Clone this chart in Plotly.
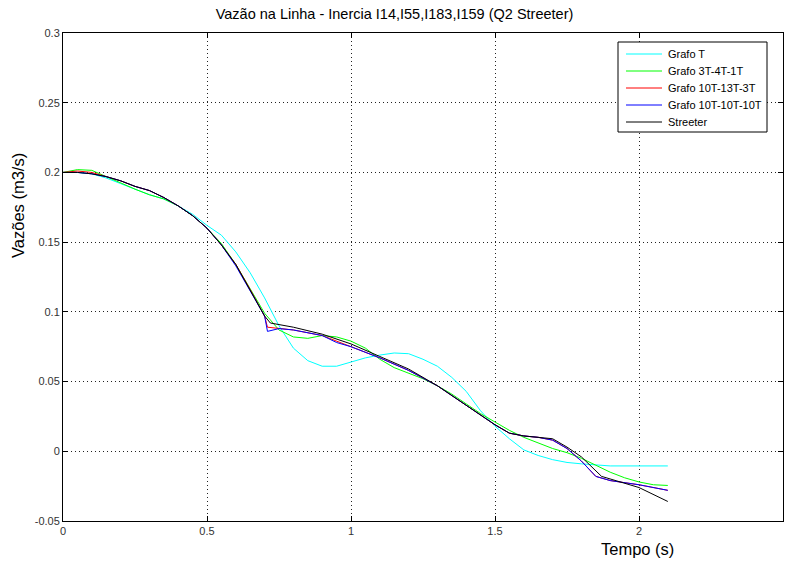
import plotly.graph_objects as go

# Time samples (s) and flow rates (m3/s) for each model
t_cyan = [0, 0.05, 0.1, 0.15, 0.2, 0.25, 0.3, 0.35, 0.4, 0.45, 0.5, 0.55, 0.6, 0.65, 0.7,
          0.75, 0.8, 0.85, 0.9, 0.95, 1.0, 1.05, 1.1, 1.15, 1.2, 1.25, 1.3, 1.35, 1.4,
          1.45, 1.5, 1.55, 1.6, 1.65, 1.7, 1.75, 1.8, 1.85, 1.9, 2.0, 2.1]
q_grafo_t = [0.200, 0.200, 0.199, 0.196, 0.192, 0.188, 0.184, 0.181, 0.176, 0.170, 0.162,
             0.155, 0.143, 0.128, 0.110, 0.090, 0.074, 0.065, 0.061, 0.061, 0.064, 0.067,
             0.069, 0.0705, 0.070, 0.066, 0.061, 0.053, 0.043, 0.029, 0.018, 0.009, 0.001,
             -0.003, -0.006, -0.008, -0.009, -0.010, -0.0105, -0.0105, -0.0105]

t_green = [0, 0.05, 0.1, 0.15, 0.2, 0.25, 0.3, 0.35, 0.4, 0.45, 0.5, 0.55, 0.6, 0.65, 0.7,
           0.75, 0.8, 0.85, 0.9, 0.95, 1.0, 1.05, 1.1, 1.15, 1.2, 1.25, 1.3, 1.35, 1.4,
           1.45, 1.5, 1.55, 1.6, 1.65, 1.7, 1.75, 1.8, 1.85, 1.9, 1.95, 2.0, 2.05, 2.1]
q_grafo_3t = [0.200, 0.202, 0.2015, 0.197, 0.192, 0.188, 0.184, 0.181, 0.176, 0.169, 0.160,
              0.149, 0.134, 0.117, 0.099, 0.087, 0.082, 0.081, 0.083, 0.082, 0.079, 0.074,
              0.066, 0.060, 0.056, 0.052, 0.047, 0.041, 0.034, 0.027, 0.021, 0.015, 0.010,
              0.006, 0.002, -0.001, -0.005, -0.010, -0.015, -0.019, -0.022, -0.024, -0.0245]

t_fine = [0, 0.05, 0.1, 0.15, 0.2, 0.25, 0.3, 0.35, 0.4, 0.45, 0.5, 0.55, 0.6, 0.65, 0.7,
          0.71, 0.75, 0.8, 0.9, 0.95, 1.0, 1.1, 1.2, 1.3, 1.4, 1.5, 1.55, 1.6, 1.65, 1.7,
          1.75, 1.8, 1.85, 1.9, 2.0, 2.1]
q_grafo_10t_13t = [0.200, 0.201, 0.200, 0.197, 0.194, 0.190, 0.187, 0.182, 0.176, 0.169,
                   0.160, 0.148, 0.134, 0.116, 0.097, 0.089, 0.088, 0.087, 0.083, 0.079,
                   0.075, 0.067, 0.058, 0.047, 0.033, 0.019, 0.013, 0.011, 0.010, 0.008,
                   0.002, -0.007, -0.018, -0.021, -0.024, -0.028]
q_grafo_10t_10t = [0.200, 0.200, 0.199, 0.197, 0.194, 0.190, 0.187, 0.182, 0.176, 0.169,
                   0.160, 0.148, 0.133, 0.115, 0.097, 0.086, 0.088, 0.087, 0.083, 0.078,
                   0.075, 0.067, 0.058, 0.047, 0.033, 0.019, 0.013, 0.011, 0.010, 0.008,
                   0.002, -0.007, -0.018, -0.021, -0.024, -0.028]

t_streeter = [0, 0.05, 0.1, 0.15, 0.2, 0.25, 0.3, 0.35, 0.4, 0.45, 0.5, 0.55, 0.6, 0.65, 0.7,
              0.72, 0.8, 0.9, 1.0, 1.1, 1.2, 1.3, 1.4, 1.5, 1.55, 1.6, 1.7, 1.75, 1.8, 1.87,
              2.0, 2.1]
q_streeter = [0.200, 0.200, 0.199, 0.197, 0.194, 0.190, 0.187, 0.182, 0.176, 0.169, 0.160,
              0.148, 0.134, 0.116, 0.097, 0.092, 0.089, 0.084, 0.077, 0.068, 0.059, 0.047,
              0.033, 0.019, 0.013, 0.011, 0.009, 0.003, -0.004, -0.018, -0.026, -0.036]

x_ticks = [0, 0.5, 1, 1.5, 2, 2.5]
x_tick_text = ["0", "0.5", "1", "1.5", "2", "2.5"]
y_ticks = [-0.05, 0, 0.05, 0.1, 0.15, 0.2, 0.25, 0.3]
y_tick_text = ["-0.05", "0", "0.05", "0.1", "0.15", "0.2", "0.25", "0.3"]

series = [
    ("Grafo T", t_cyan, q_grafo_t, "#00ffff"),
    ("Grafo 3T-4T-1T", t_green, q_grafo_3t, "#00ff00"),
    ("Grafo 10T-13T-3T", t_fine, q_grafo_10t_13t, "#ff0000"),
    ("Grafo 10T-10T-10T", t_fine, q_grafo_10t_10t, "#0000ff"),
    ("Streeter", t_streeter, q_streeter, "#000000"),
]

FONT = "Liberation Sans, Arial, Helvetica"
W, H = 789, 561
M_L, M_R, M_T, M_B = 63, 6, 33, 40
PLOT_W, PLOT_H = W - M_L - M_R, H - M_T - M_B


def px(xpix):
    """Horizontal pixel position -> paper fraction."""
    return (xpix - M_L) / PLOT_W


def py(ypix):
    """Vertical pixel position (from top) -> paper fraction."""
    return (H - M_B - ypix) / PLOT_H


fig = go.Figure()
for name, t, q, color in series:
    fig.add_trace(go.Scatter(x=t, y=q, mode="lines", name=name,
                             line=dict(color=color, width=1)))

axis_common = dict(
    showline=True, linecolor="black", linewidth=1, mirror="ticks",
    ticks="inside", ticklen=5, tickcolor="black",
    showgrid=True, gridcolor="#222", griddash="1px,3px", gridwidth=1,
    zeroline=False, tickfont=dict(family=FONT, size=11, color="#333"),
)

# MATLAB-style legend box in the upper right corner
LEG_BOX = (618, 42, 767, 132)   # left, top, right, bottom (px)
LEG_ROW0, LEG_ROW_STEP = 54, 17
LEG_LINE_X0, LEG_LINE_X1, LEG_TEXT_X = 626, 662, 666

shapes = [dict(type="rect", xref="paper", yref="paper",
               x0=px(LEG_BOX[0]), x1=px(LEG_BOX[2]),
               y0=py(LEG_BOX[3]), y1=py(LEG_BOX[1]),
               line=dict(color="black", width=1), fillcolor="white", layer="above")]
annotations = []
for i, (name, _, _, color) in enumerate(series):
    yrow = py(LEG_ROW0 + i * LEG_ROW_STEP)
    shapes.append(dict(type="line", xref="paper", yref="paper",
                       x0=px(LEG_LINE_X0), x1=px(LEG_LINE_X1), y0=yrow, y1=yrow,
                       line=dict(color=color, width=1), layer="above"))
    annotations.append(dict(text=name, xref="paper", yref="paper",
                            x=px(LEG_TEXT_X), y=yrow, xanchor="left", yanchor="middle",
                            showarrow=False, font=dict(size=11, color="black")))

annotations.append(dict(text="Tempo (s)", xref="paper", yref="paper",
                        x=px(637), y=py(549), xanchor="center", yanchor="middle",
                        showarrow=False, font=dict(size=16.5, color="black")))
annotations.append(dict(text="Vazões (m3/s)", xref="paper", yref="paper",
                        x=px(18), y=py(206), xanchor="center", yanchor="middle",
                        textangle=-90, showarrow=False,
                        font=dict(size=16.5, color="black")))

fig.update_layout(
    width=W, height=H,
    margin=dict(l=M_L, r=M_R, t=M_T, b=M_B),
    paper_bgcolor="white", plot_bgcolor="white",
    font=dict(family=FONT, color="black"),
    title=dict(text="Vazão na Linha - Inercia I14,I55,I183,I159 (Q2 Streeter)",
               x=0.5, xanchor="center", xref="container",
               y=1 - 14 / H, yref="container", yanchor="middle",
               font=dict(size=14.5, color="black")),
    xaxis=dict(range=[0, 2.5], tickvals=x_ticks, ticktext=x_tick_text, **axis_common),
    yaxis=dict(range=[-0.05, 0.3], tickvals=y_ticks, ticktext=y_tick_text, **axis_common),
    showlegend=False,
    shapes=shapes,
    annotations=annotations,
)

fig.write_html("out.html")
